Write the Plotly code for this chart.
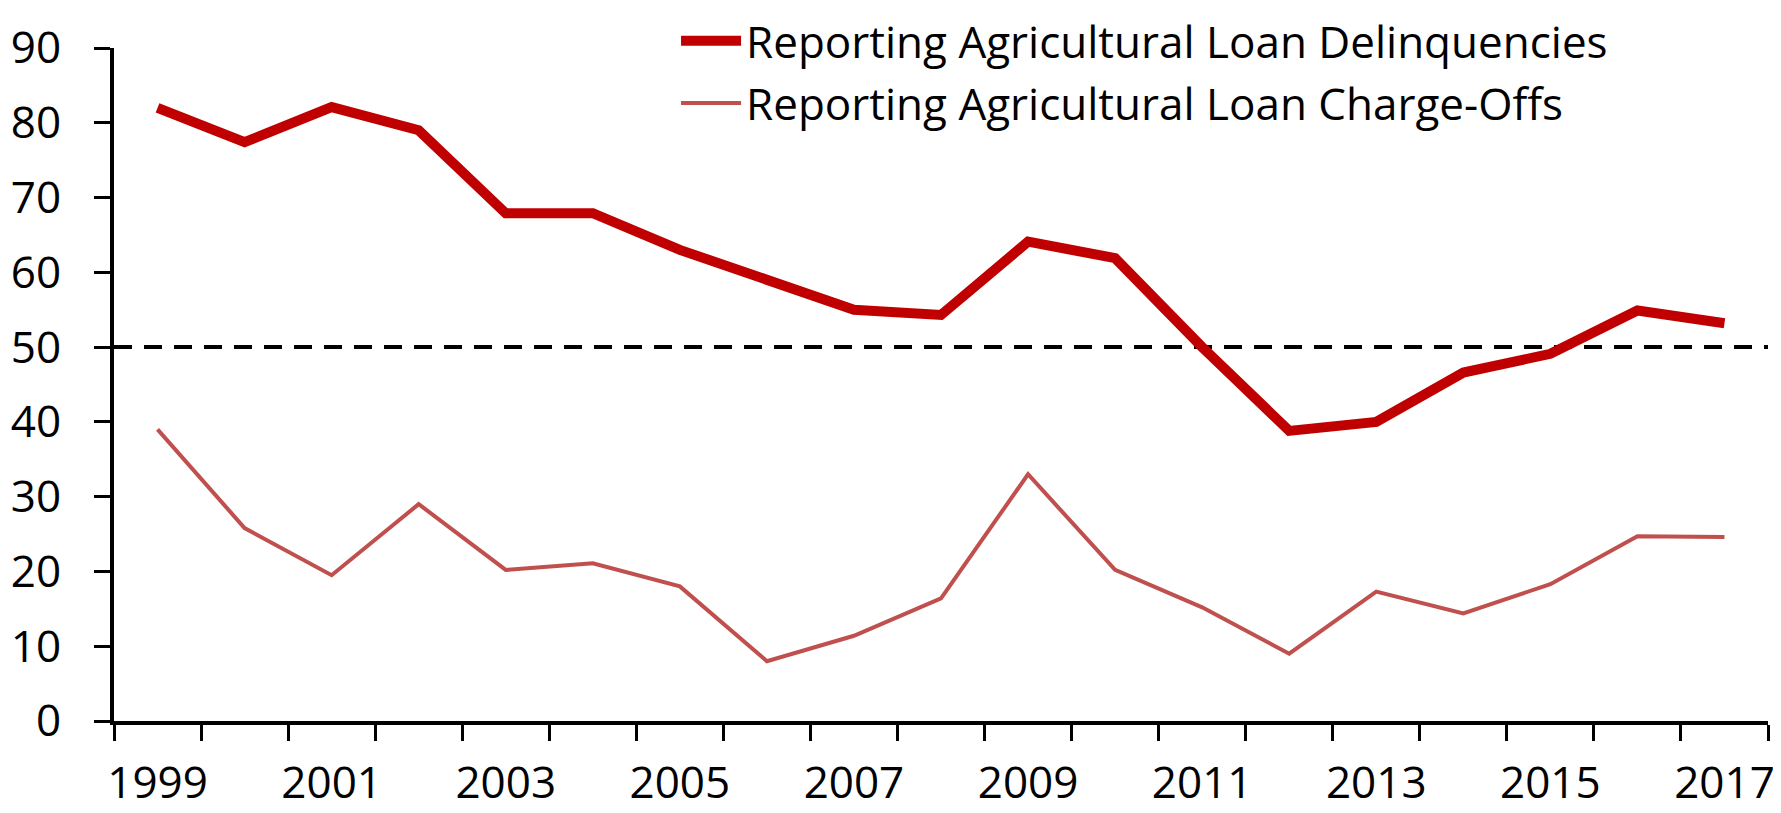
import plotly.graph_objects as go

years = [str(y) for y in range(1999, 2018)]
delinquencies = [82.0, 77.4, 82.1, 79.0, 67.9, 67.9, 63.0, 59.0, 55.0, 54.3,
                 64.1, 61.9, 50.0, 38.8, 40.0, 46.6, 49.1, 54.9, 53.2]
charge_offs = [39.0, 25.8, 19.5, 29.0, 20.2, 21.1, 18.0, 8.0, 11.4, 16.4,
               33.0, 20.2, 15.2, 9.0, 17.3, 14.4, 18.3, 24.7, 24.6]
threshold = 50
tick_text = [y if i % 2 == 0 else "" for i, y in enumerate(years)]
y_ticks = list(range(0, 100, 10))

FONT = "Open Sans"

fig = go.Figure()
fig.add_trace(go.Scatter(
    x=years, y=delinquencies, mode="lines",
    name="Reporting Agricultural Loan Delinquencies",
    line=dict(color="#C00000", width=10), legendgroup="a"))
fig.add_trace(go.Scatter(
    x=years, y=charge_offs, mode="lines",
    name="Reporting Agricultural Loan Charge-Offs",
    line=dict(color="#C0504D", width=4), legendgroup="b"))

fig.add_shape(type="line", xref="paper", x0=0, x1=1, yref="y", y0=threshold, y1=threshold,
              line=dict(color="black", width=4, dash="18px,12px"), layer="below")

fig.update_layout(
    width=1781, height=813, autosize=False,
    paper_bgcolor="white", plot_bgcolor="white",
    margin=dict(l=106, r=21, t=40, b=100, autoexpand=False),
    font=dict(family=FONT, color="black", size=45),
    legend=dict(xref="container", yref="paper", x=0.3751, xanchor="left",
                y=1.063, yanchor="top",
                font=dict(family=FONT, size=44, color="black"),
                bgcolor="rgba(0,0,0,0)", tracegroupgap=2, itemwidth=60),
    xaxis=dict(type="category", range=[-0.5, 18.5], tickson="boundaries",
               tickvals=years, ticktext=tick_text, tickangle=0, automargin=False,
               ticks="outside", ticklen=16, tickwidth=3, tickcolor="black",
               showline=True, linewidth=4, linecolor="black", showgrid=False,
               zeroline=False, tickfont=dict(family=FONT, size=44, color="black"),
               ticklabelstandoff=20),
    yaxis=dict(range=[0, 90], tickvals=y_ticks, ticks="outside", ticklen=16,
               automargin=False,
               tickwidth=3, tickcolor="black", showline=True, linewidth=4,
               linecolor="black", showgrid=False, zeroline=False,
               tickfont=dict(family=FONT, size=44, color="black"),
               ticklabelstandoff=24),
)

fig.write_html("out.html")
